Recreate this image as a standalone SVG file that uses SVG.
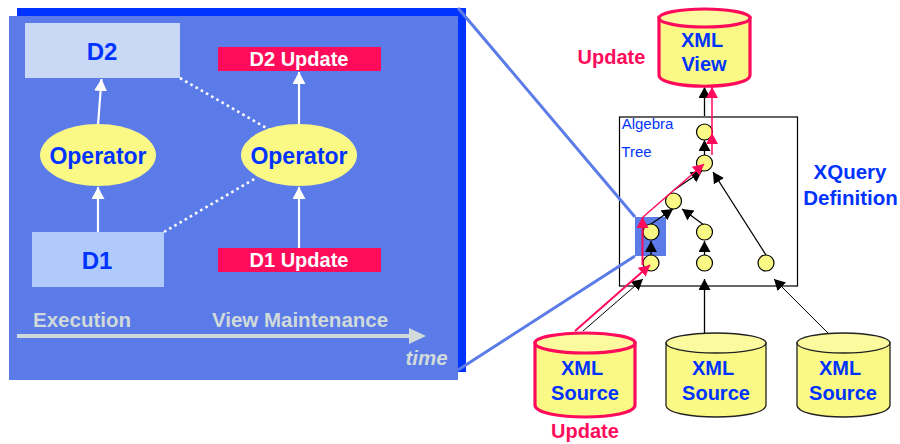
<svg xmlns="http://www.w3.org/2000/svg" width="900" height="444" viewBox="0 0 900 444">
<style>
text{font-family:"Liberation Sans",Arial,sans-serif;font-weight:bold;text-anchor:middle}
.b{fill:#0033FF;font-size:20px}
.q{fill:#0033FF;font-size:20.500px}
.big{fill:#0033FF;font-size:24px}
.opt{fill:#0033FF;font-size:23px}
.up{fill:#fff;font-size:20px}
.ax{fill:#D0DADA;font-size:20.500px}
.alg{fill:#0033FF;font-size:15px;font-weight:normal}
.u{fill:#FF0B5B;font-size:20px}
.w{stroke:#fff;stroke-width:2.2;fill:none}
.d{stroke:#fff;stroke-width:2.600;stroke-dasharray:2.600 3.400;fill:none}
.k{stroke:#000;stroke-width:1.300;fill:none}
.kt{stroke:#000;stroke-width:1;fill:none}
.r{stroke:#FF0B5B;stroke-width:1.500;fill:none}
.rt{stroke:#FF0B5B;stroke-width:2;fill:none}
.c{fill:#FAF986;stroke:#000;stroke-width:1.200}
.cy{fill:#FAF986;stroke:#222;stroke-width:1.300}
.cyt{fill:#FBFA9E;stroke:#222;stroke-width:1.300}
.cr{fill:#FAF986;stroke:#FF0B5B;stroke-width:3.200}
.crt{fill:#FBFA9E;stroke:#FF0B5B;stroke-width:3.200}
.op{fill:#FAF986}
.bl{stroke:#5B7BE8;stroke-width:3;fill:none}
</style>
<defs>
<marker id="mw" markerUnits="userSpaceOnUse" markerWidth="14" markerHeight="14" refX="12" refY="6.500" orient="auto"><path d="M0 0L12 6.500L0 13z" fill="#fff"/></marker>
<marker id="mk" markerUnits="userSpaceOnUse" markerWidth="13" markerHeight="13" refX="11" refY="6" orient="auto"><path d="M0 0L11 6L0 12z" fill="#000"/></marker>
<marker id="mr" markerUnits="userSpaceOnUse" markerWidth="13" markerHeight="13" refX="11" refY="6" orient="auto"><path d="M0 0L11 6L0 12z" fill="#FF0B5B"/></marker>
</defs>
<g id="panel">
<rect x="17" y="8" width="449" height="364" fill="#0033FF"/>
<rect x="9" y="16" width="449" height="364" fill="#5B7BE8"/>
</g>
<g id="tree-box"><rect x="619.500" y="117" width="178" height="169" fill="#fff" stroke="#000" stroke-width="1.200"/></g>
<g id="highlight"><rect x="635" y="217" width="31" height="39" fill="#5B7BE8"/></g>
<g id="connectors">
<path class="w" d="M98 125L101.500 79" marker-end="url(#mw)"/>
<path class="w" d="M98 232V187" marker-end="url(#mw)"/>
<path class="w" d="M299 125V72" marker-end="url(#mw)"/>
<path class="w" d="M299 248V187" marker-end="url(#mw)"/>
<path class="d" d="M180 78L270 130"/>
<path class="d" d="M164 232L256 178"/>
<path class="bl" d="M458 8L635 217"/>
<path class="bl" d="M458 370L635 256"/>
<path d="M17 336H412" stroke="#D0DADA" stroke-width="4" fill="none"/>
<path fill="#D0DADA" d="M409 328L426 336L409 344z"/>
<path class="k" d="M704.500 116V87" marker-end="url(#mk)"/>
<path class="k" d="M704.500 155V140" marker-end="url(#mk)"/>
<path class="k" d="M674 190L702 171" marker-end="url(#mk)"/>
<path class="k" d="M651 224L673 209" marker-end="url(#mk)"/>
<path class="k" d="M704 225L682 209" marker-end="url(#mk)"/>
<path class="k" d="M651 255V241" marker-end="url(#mk)"/>
<path class="k" d="M704.500 255V241" marker-end="url(#mk)"/>
<path class="k" d="M766 255L713 172" marker-end="url(#mk)"/>
<path class="kt" d="M583 331L643 279" marker-end="url(#mk)"/>
<path class="k" d="M704.500 333V279" marker-end="url(#mk)"/>
<path class="kt" d="M828 333L774 279" marker-end="url(#mk)"/>
</g>
<g id="tree-nodes">
<circle class="c" cx="704.500" cy="132" r="8"/>
<circle class="c" cx="704.500" cy="163" r="8"/>
<circle class="c" cx="673.500" cy="201" r="8"/>
<circle class="c" cx="651" cy="232" r="8"/>
<circle class="c" cx="651" cy="263" r="8"/>
<circle class="c" cx="704.500" cy="232" r="8"/>
<circle class="c" cx="704.500" cy="263" r="8"/>
<circle class="c" cx="766" cy="263" r="8"/>
</g>
<g id="update-connectors">
<path class="rt" d="M575 331L650 265" marker-end="url(#mr)"/>
<path class="rt" d="M642.500 265V217" marker-end="url(#mr)"/>
<path class="r" d="M643 217L704 164" marker-end="url(#mr)"/>
<path class="r" d="M712 155V133" marker-end="url(#mr)"/>
<path class="r" d="M712 133V87" marker-end="url(#mr)"/>
</g>
<g id="D2"><rect x="25" y="23" width="155" height="55" fill="#C8D8F5"/><text class="big" x="102" y="60">D2</text></g>
<g id="D1"><rect x="32" y="232" width="132" height="55" fill="#B0CBFB"/><text class="big" x="97" y="269">D1</text></g>
<g id="D2Update"><rect x="218" y="47" width="163" height="24" fill="#FF0B5B"/><text class="up" x="299" y="66">D2 Update</text></g>
<g id="D1Update"><rect x="218" y="248" width="163" height="24" fill="#FF0B5B"/><text class="up" x="299" y="267">D1 Update</text></g>
<g id="op1"><ellipse class="op" cx="98" cy="155" rx="58" ry="31"/><text class="opt" x="98" y="164">Operator</text></g>
<g id="op2"><ellipse class="op" cx="299" cy="155" rx="58" ry="31"/><text class="opt" x="299" y="164">Operator</text></g>
<g id="axis-labels">
<text class="ax" x="82" y="327">Execution</text>
<text class="ax" x="300" y="327">View Maintenance</text>
<text class="ax" x="426.500" y="365" font-style="italic">time</text>
</g>
<g id="tree-label">
<text class="alg" x="647.500" y="129">Algebra</text>
<text class="alg" x="636.500" y="157">Tree</text>
</g>
<g id="xquery"><text class="q" x="850" y="179">XQuery</text><text class="q" x="850.500" y="205">Definition</text></g>
<g id="view">
<path class="cr" d="M659 18V75C659 90 750 90 750 75V18z"/>
<ellipse class="crt" cx="704.500" cy="18" rx="45.500" ry="9"/>
<text class="b" x="702" y="47">XML</text><text class="b" x="704" y="71">View</text>
</g>
<g id="source1">
<path class="cr" d="M535 343V405C535 421 635 421 635 405V343z"/>
<ellipse class="crt" cx="585" cy="343" rx="50" ry="10"/>
<text class="b" x="582" y="375">XML</text><text class="b" x="585" y="400">Source</text>
</g>
<g id="source2">
<path class="cy" d="M666 343V405C666 421 766 421 766 405V343z"/>
<ellipse class="cyt" cx="716" cy="343" rx="50" ry="10"/>
<text class="b" x="713" y="375">XML</text><text class="b" x="716" y="400">Source</text>
</g>
<g id="source3">
<path class="cy" d="M797 343V405C797 421 890 421 890 405V343z"/>
<ellipse class="cyt" cx="843.500" cy="343" rx="46.500" ry="10"/>
<text class="b" x="840" y="375">XML</text><text class="b" x="843" y="400">Source</text>
</g>
<g id="update-labels">
<text class="u" x="611.500" y="63.500">Update</text>
<text class="u" x="585" y="438">Update</text>
</g>
</svg>
